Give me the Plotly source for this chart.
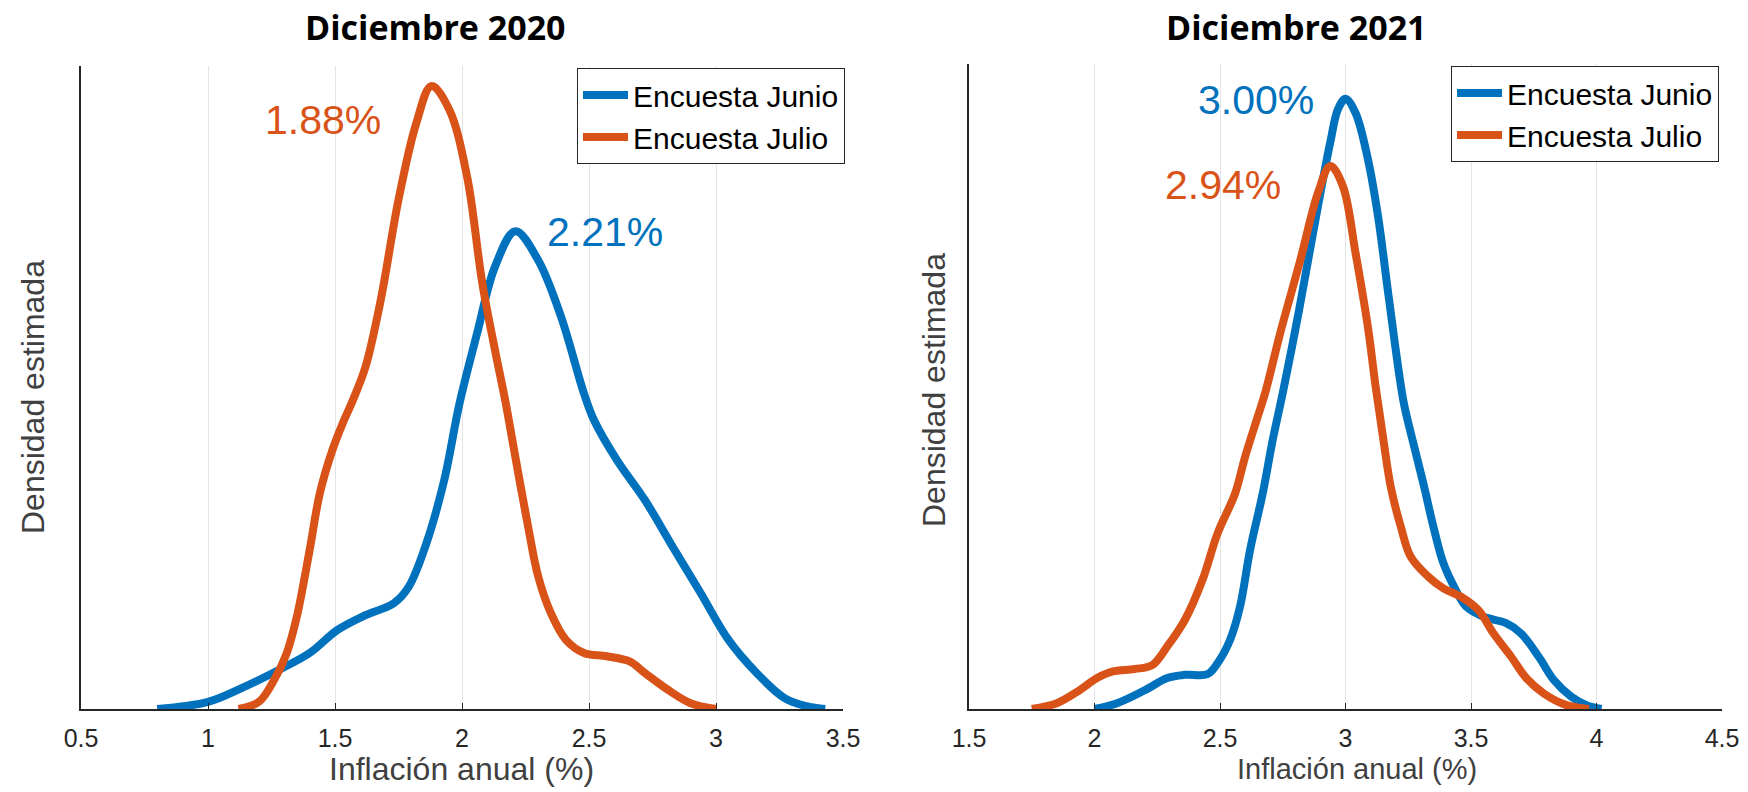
import plotly.graph_objects as go

# ---- Data (density, normalised so the axis top = 1) ----
x_jun_2020 = [0.80, 1.00, 1.13, 1.29, 1.40, 1.51, 1.62, 1.73, 1.79, 1.86, 1.93, 1.99, 2.06, 2.13, 2.21,
              2.30, 2.39, 2.48, 2.52, 2.61, 2.72, 2.83, 2.94, 3.05, 3.16, 3.27, 3.36, 3.43]
y_jun_2020 = [0.000, 0.011, 0.032, 0.063, 0.087, 0.123, 0.146, 0.164, 0.190, 0.258, 0.356, 0.475, 0.585, 0.688, 0.743,
              0.698, 0.610, 0.491, 0.449, 0.387, 0.325, 0.252, 0.180, 0.107, 0.056, 0.017, 0.004, 0.000]

x_jul_2020 = [1.12, 1.20, 1.26, 1.31, 1.35, 1.40, 1.44, 1.49, 1.53, 1.57, 1.62, 1.68, 1.75, 1.82, 1.88,
              1.95, 2.02, 2.08, 2.13, 2.17, 2.21, 2.26, 2.30, 2.35, 2.41, 2.48, 2.57, 2.66, 2.72, 2.81, 2.90, 3.00]
y_jul_2020 = [0.000, 0.011, 0.045, 0.087, 0.144, 0.247, 0.335, 0.403, 0.444, 0.480, 0.532, 0.636, 0.792, 0.911, 0.969,
              0.932, 0.828, 0.662, 0.558, 0.480, 0.392, 0.284, 0.206, 0.149, 0.107, 0.087, 0.082, 0.074, 0.056, 0.030, 0.009, 0.000]

x_jun_2021 = [2.00, 2.09, 2.20, 2.29, 2.36, 2.45, 2.49, 2.54, 2.58, 2.62, 2.67, 2.71, 2.75, 2.81, 2.86, 2.90, 2.94, 2.97, 3.00,
              3.04, 3.09, 3.13, 3.17, 3.23, 3.26, 3.31, 3.35, 3.39, 3.44, 3.48, 3.55, 3.64, 3.70, 3.77, 3.83, 3.90, 3.96, 4.02]
y_jun_2021 = [0.000, 0.009, 0.029, 0.048, 0.053, 0.054, 0.071, 0.107, 0.159, 0.247, 0.334, 0.417, 0.490, 0.608, 0.715, 0.800, 0.880, 0.930, 0.946,
              0.924, 0.851, 0.763, 0.645, 0.479, 0.428, 0.350, 0.283, 0.226, 0.184, 0.159, 0.143, 0.133, 0.117, 0.081, 0.045, 0.019, 0.006, 0.000]

x_jul_2021 = [1.75, 1.85, 1.94, 2.01, 2.07, 2.16, 2.23, 2.29, 2.36, 2.43, 2.49, 2.56, 2.60, 2.65, 2.68, 2.74, 2.82, 2.89, 2.94,
              2.99, 3.04, 3.09, 3.12, 3.15, 3.18, 3.22, 3.26, 3.33, 3.39, 3.46, 3.53, 3.59, 3.66, 3.72, 3.79, 3.88, 3.97]
y_jul_2021 = [0.000, 0.009, 0.029, 0.048, 0.058, 0.062, 0.068, 0.097, 0.138, 0.200, 0.272, 0.334, 0.391, 0.453, 0.490, 0.583, 0.696, 0.800, 0.842,
              0.810, 0.707, 0.590, 0.500, 0.420, 0.345, 0.283, 0.236, 0.205, 0.187, 0.174, 0.153, 0.117, 0.081, 0.048, 0.024, 0.006, 0.000]

series_names = ["Encuesta Junio", "Encuesta Julio"]
panel_titles = ["Diciembre 2020", "Diciembre 2021"]
peak_labels_2020 = ["2.21%", "1.88%"]
peak_labels_2021 = ["3.00%", "2.94%"]

BLUE = "#0072BD"
ORANGE = "#D95319"
AXC = "#262626"
FONT = "Liberation Sans, Arial, sans-serif"

W, H = 1748, 792
def px(x):
    return x / W
def py(y):
    return 1 - y / H

LW = 8
fig = go.Figure()
fig.add_trace(go.Scatter(x=x_jun_2020, y=y_jun_2020, mode="lines", name=series_names[0],
                         line=dict(color=BLUE, width=LW, shape="spline"), xaxis="x", yaxis="y", legend="legend"))
fig.add_trace(go.Scatter(x=x_jul_2020, y=y_jul_2020, mode="lines", name=series_names[1],
                         line=dict(color=ORANGE, width=LW, shape="spline"), xaxis="x", yaxis="y", legend="legend"))
fig.add_trace(go.Scatter(x=x_jun_2021, y=y_jun_2021, mode="lines", name=series_names[0],
                         line=dict(color=BLUE, width=LW, shape="spline"), xaxis="x2", yaxis="y2", legend="legend2"))
fig.add_trace(go.Scatter(x=x_jul_2021, y=y_jul_2021, mode="lines", name=series_names[1],
                         line=dict(color=ORANGE, width=LW, shape="spline"), xaxis="x2", yaxis="y2", legend="legend2"))

xcommon = dict(showgrid=True, gridcolor="#e3e3e3", gridwidth=1, dtick=0.5, showline=True, linecolor=AXC,
               linewidth=1.5, ticks="inside", ticklen=6, tickcolor=AXC, tickwidth=1.2, zeroline=False,
               automargin=False, tickfont=dict(family=FONT, size=25, color=AXC), ticklabelstandoff=6)
ycommon = dict(showgrid=False, showline=True, linecolor=AXC, linewidth=1.5, showticklabels=False, ticks="",
               automargin=False, zeroline=False, range=[0, 1])

legend_font = dict(family=FONT, size=30, color="black")
fig.update_layout(
    width=W, height=H, autosize=False, margin=dict(l=0, r=0, t=0, b=0, pad=0, autoexpand=False),
    paper_bgcolor="white", plot_bgcolor="white",
    xaxis=dict(domain=[px(81), px(843)], range=[0.5, 3.5], anchor="y", tick0=0.5, **xcommon),
    yaxis=dict(domain=[py(709), py(66)], anchor="x", **ycommon),
    xaxis2=dict(domain=[px(969), px(1722)], range=[1.5, 4.5], anchor="y2", tick0=1.5, **xcommon),
    yaxis2=dict(domain=[py(709), py(64)], anchor="x2", **ycommon),
    legend=dict(x=px(845), y=py(68), xanchor="right", yanchor="top", bgcolor="white",
                bordercolor=AXC, borderwidth=1, font=legend_font, itemwidth=45, tracegroupgap=0),
    legend2=dict(x=px(1719), y=py(66), xanchor="right", yanchor="top", bgcolor="white",
                 bordercolor=AXC, borderwidth=1, font=legend_font, itemwidth=45, tracegroupgap=0),
    showlegend=True,
)

def ann(text, x, y, size, color, family=FONT, xref="paper", yref="paper", angle=0):
    return dict(text=text, x=x, y=y, xref=xref, yref=yref, xanchor="center", yanchor="middle",
                showarrow=False, textangle=angle, font=dict(family=family, size=size, color=color))

anns = []
TFONT = "Open Sans, sans-serif"
anns.append(ann("<b>" + panel_titles[0] + "</b>", px(435), py(27), 34, "black", TFONT))
anns.append(ann("<b>" + panel_titles[1] + "</b>", px(1296), py(27), 34, "black", TFONT))
anns.append(ann("Inflación anual (%)", px(462), py(769), 32, "#404040"))
anns.append(ann("Inflación anual (%)", px(1357), py(769), 29, "#404040"))
anns.append(ann("Densidad estimada", px(33), py(397), 32, "#404040", angle=-90))
anns.append(ann("Densidad estimada", px(934), py(390), 32, "#404040", angle=-90))
anns.append(ann(peak_labels_2020[1], 1.453, 0.916, 41, ORANGE, xref="x", yref="y"))
anns.append(ann(peak_labels_2020[0], 2.563, 0.742, 41, BLUE, xref="x", yref="y"))
anns.append(ann(peak_labels_2021[0], 2.643, 0.944, 41, BLUE, xref="x2", yref="y2"))
anns.append(ann(peak_labels_2021[1], 2.512, 0.812, 41, ORANGE, xref="x2", yref="y2"))
fig.update_layout(annotations=anns)

fig.write_html(
    "out.html",
    config={"responsive": False, "displayModeBar": False},
    post_script="document.body.style.margin='0';document.body.style.overflow='hidden';",
)
